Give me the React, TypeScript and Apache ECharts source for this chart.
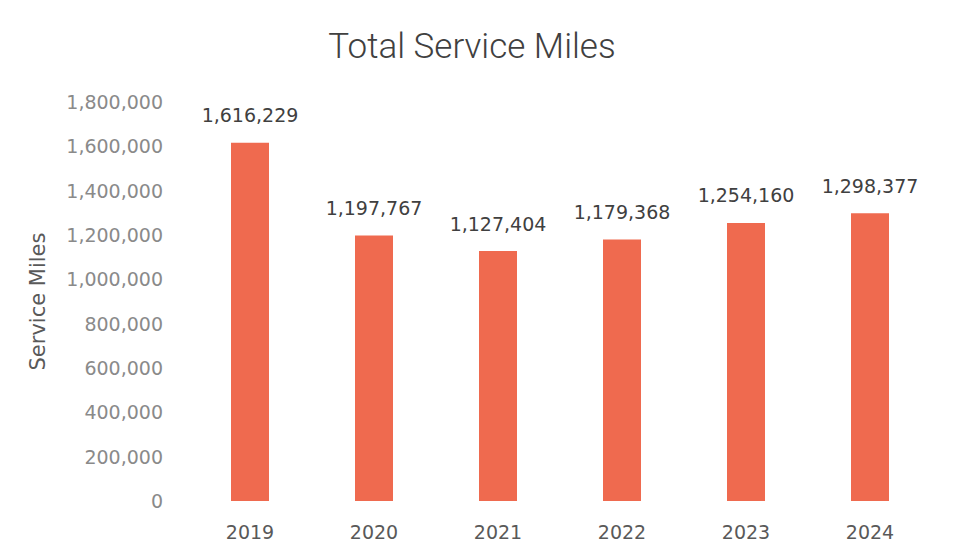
import React, { useEffect, useRef } from "react";
import * as echarts from "echarts";

const years = ["2019", "2020", "2021", "2022", "2023", "2024"];
const serviceMiles = [1616229, 1197767, 1127404, 1179368, 1254160, 1298377];
const yTicks = { min: 0, max: 1800000, interval: 200000 };

export default function App() {
  const ref = useRef<HTMLDivElement>(null);
  useEffect(() => {
    if (!ref.current) return;
    const chart = echarts.init(ref.current, null, { renderer: "svg" });
    const fmt = (v: number) => v.toLocaleString("en-US");
    chart.setOption({
      animation: false,
      backgroundColor: "#ffffff",
      title: {
        text: "Total Service Miles",
        left: 459,
        top: 16,
        textAlign: "center",
        textStyle: {
          fontFamily: "Roboto",
          fontSize: 35,
          fontWeight: 300,
          color: "#404040",
        },
      },
      grid: { left: 180, right: 20, top: 94, bottom: 50 },
      xAxis: {
        type: "category",
        data: years,
        axisLine: { show: false },
        axisTick: { show: false },
        axisLabel: {
          margin: 21,
          fontFamily: "DejaVu Sans",
          fontSize: 19,
          color: "#595959",
        },
      },
      yAxis: {
        type: "value",
        min: yTicks.min,
        max: yTicks.max,
        interval: yTicks.interval,
        name: "Service Miles",
        nameLocation: "middle",
        nameGap: 140,
        nameTextStyle: {
          fontFamily: "DejaVu Sans",
          fontSize: 21,
          color: "#595959",
        },
        splitLine: { show: false },
        axisLine: { show: false },
        axisTick: { show: false },
        axisLabel: {
          margin: 25,
          fontFamily: "DejaVu Sans",
          fontSize: 19,
          color: "#8a8a8a",
          formatter: (v: number) => fmt(v),
        },
      },
      series: [
        {
          type: "bar",
          data: serviceMiles,
          barWidth: 38,
          itemStyle: { color: "#EF6A4F" },
          label: {
            show: true,
            position: "top",
            distance: 18,
            fontFamily: "DejaVu Sans",
            fontSize: 19,
            color: "#404040",
            formatter: (p: any) => fmt(p.value),
          },
        },
      ],
    });
    return () => chart.dispose();
  }, []);
  return <div ref={ref} style={{ width: 944, height: 543 }} />;
}
